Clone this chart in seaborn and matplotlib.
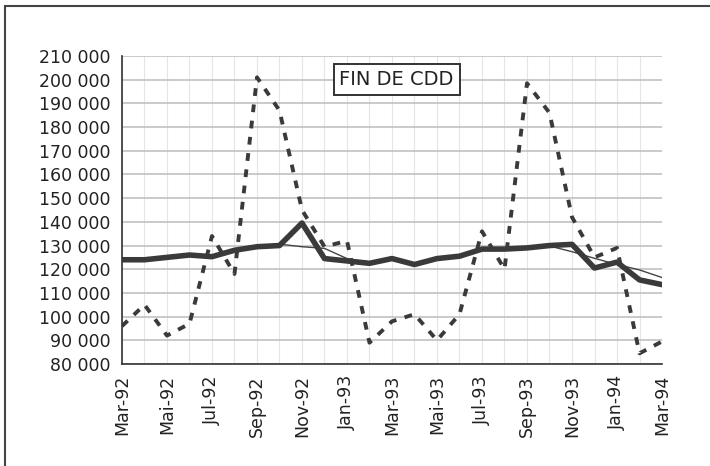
import numpy as np
import pandas as pd
import seaborn as sns
import matplotlib.pyplot as plt
from matplotlib.patches import Rectangle

mois = ["Mar-92", "Avr-92", "Mai-92", "Jun-92", "Jul-92", "Aou-92", "Sep-92", "Oct-92",
        "Nov-92", "Dec-92", "Jan-93", "Fev-93", "Mar-93", "Avr-93", "Mai-93", "Jun-93",
        "Jul-93", "Aou-93", "Sep-93", "Oct-93", "Nov-93", "Dec-93", "Jan-94", "Fev-94", "Mar-94"]

# series brute (pointillés)
brute = [96000, 105000, 92000, 97000, 134000, 118000, 201000, 187000, 145000, 129500,
         132000, 89000, 98000, 101000, 90000, 101000, 136000, 120000, 198500, 186000,
         142000, 125000, 129000, 84500, 89500]
# corrigée des variations saisonnières (trait épais)
cvs = [124000, 124000, 125000, 126000, 125300, 128000, 129500, 130000, 139500, 124500,
       123500, 122500, 124500, 122000, 124500, 125500, 128500, 128500, 129000, 130000,
       130500, 120500, 123000, 115500, 113500]
# tendance (trait fin)
tendance = [124000, 124000, 125000, 125800, 125800, 128000, 129500, 130600, 129500, 128800,
            124500, 122800, 124000, 122500, 124300, 125500, 128200, 128600, 129000, 129800,
            127400, 124600, 122000, 119700, 116500]

ticks_y = list(range(80000, 210001, 10000))

df = pd.DataFrame({"x": np.arange(len(mois)), "brute": brute, "cvs": cvs, "tendance": tendance})

sns.set_style("white")
plt.rcParams["font.family"] = ["DejaVu Sans"]

fig = plt.figure(figsize=(7.1, 4.66), dpi=100)
ax = fig.add_axes([0.1718, 0.2189, 0.7606, 0.6609])

ax.set_axisbelow(True)
ax.grid(True, axis="y", color="#bcbcbc", lw=1.1)
ax.grid(True, axis="x", color="#e6e6e6", lw=0.8)

sns.lineplot(data=df, x="x", y="brute", ax=ax, color="#3a3a3a", lw=2.8,
             linestyle=(0, (2.0, 2.2)))
sns.lineplot(data=df, x="x", y="tendance", ax=ax, color="#444444", lw=1.0)
sns.lineplot(data=df, x="x", y="cvs", ax=ax, color="#3a3a3a", lw=4.0)

ax.set_xlim(0, len(mois) - 1)
ax.set_ylim(80000, 210000)
ax.set_xticks(df["x"])
ax.set_xticklabels([m if i % 2 == 0 else "" for i, m in enumerate(mois)],
                   rotation=90, fontsize=12.5, color="#222222")
ax.set_yticks(ticks_y)
ax.set_yticklabels([f"{v:,}".replace(",", " ") for v in ticks_y], fontsize=12.5, color="#222222")
ax.tick_params(axis="both", direction="inout", length=8, width=1, color="#333333", pad=4)
ax.set_xlabel("")
ax.set_ylabel("")

for s in ["top", "right"]:
    ax.spines[s].set_visible(False)
for s in ["left", "bottom"]:
    ax.spines[s].set_color("#333333")
    ax.spines[s].set_linewidth(1.2)

ax.text(0.5585, 0.829, "FIN DE CDD", transform=fig.transFigure, fontsize=14, color="#222222",
        ha="center", va="center",
        bbox=dict(boxstyle="square,pad=0.3", fc="white", ec="#333333", lw=1.4))

fig.patches.append(Rectangle((5 / 710, -0.1), 1.2, 1.1 - 6 / 466, transform=fig.transFigure,
                             fill=False, ec="#444444", lw=1.5))

fig.savefig("out.png", dpi=100)
